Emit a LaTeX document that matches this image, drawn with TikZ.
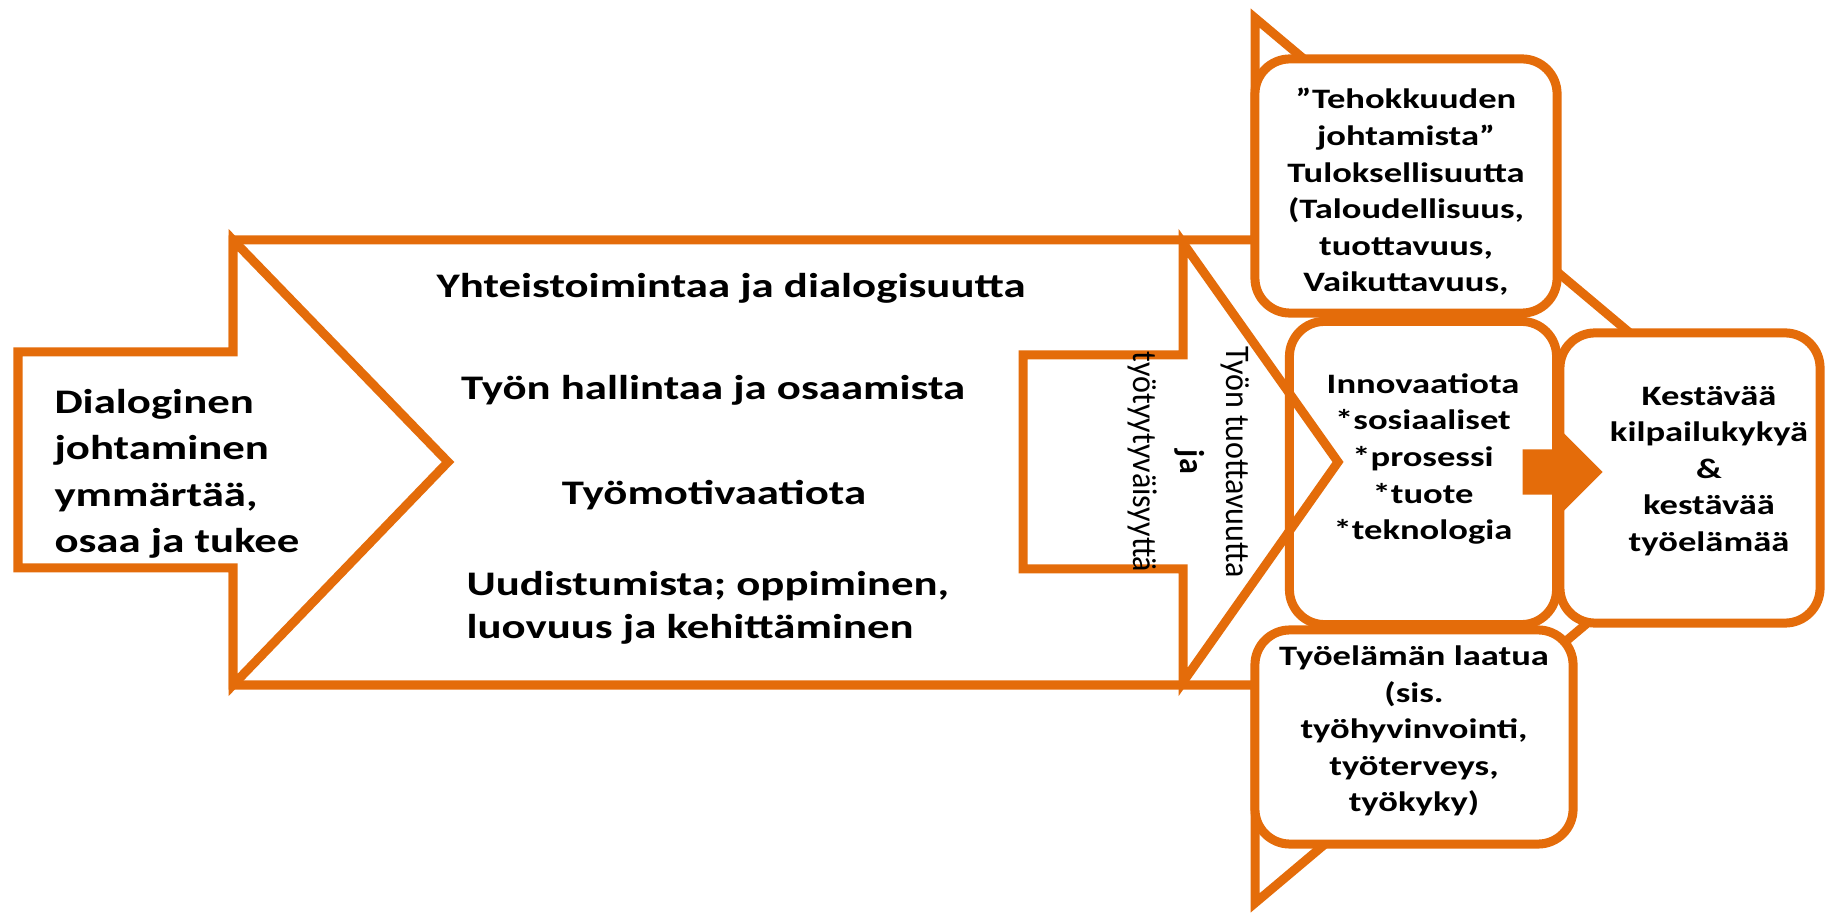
\documentclass[tikz,border=0pt]{standalone}
\usepackage{fontspec}
\setmainfont{Carlito}[FakeStretch=1.3]
\newfontfamily\rotfont{Carlito}[FakeStretch=0.93]
\usetikzlibrary{shapes.arrows}
\definecolor{accent}{HTML}{E46C0A}

\begin{document}
\begin{tikzpicture}[x=0.01cm, y=-0.01cm, line width=0.09cm,
    box/.style={draw=accent, fill=white, rectangle, rounded corners=0.35cm, inner sep=0pt},
    boxtext/.style={align=center, inner sep=0pt, font=\fontsize{8}{10.4}\selectfont\bfseries},
    label/.style={align=center, inner sep=0pt, font=\fontsize{9.8}{13.2}\selectfont\bfseries}]

    \useasboundingbox (0,0) rectangle (1827,916);

    % Big arrow in the back
    \draw[accent, fill=white] (233,240) -- (1255,240) -- (1255,18) -- (1781,460)
        -- (1255,903) -- (1255,685) -- (233,685) -- cycle;

    % Left arrow and middle arrow on top of it
    \draw[accent, fill=white] (18,352) -- (233,352) -- (233,240) -- (448,462)
        -- (233,685) -- (233,568) -- (18,568) -- cycle;
    \draw[accent, fill=white] (1023,355) -- (1183,355) -- (1183,243) -- (1338,462)
        -- (1183,682) -- (1183,569) -- (1023,569) -- cycle;

    % Texts in the first column (left)
    \node[label, align=left, anchor=west] (L1) at (50,474)
        {Dialoginen\\johtaminen\\ymmärtää,\\osaa ja tukee};

    % Texts in the big arrow
    \node[label] (M1) at (731,288) {Yhteistoimintaa ja dialogisuutta};
    \node[label] (M2) at (713,390) {Työn hallintaa ja osaamista};
    \node[label] (M3) at (714,495) {Työmotivaatiota};
    \node[label, align=left, anchor=west, font=\fontsize{9.8}{12.4}\selectfont\bfseries] (M4)
        at (462,608) {Uudistumista; oppiminen,\\luovuus ja kehittäminen};

    % Text in the middle arrow, turned
    \node[align=center, inner sep=0pt, rotate=-90, font=\rotfont\fontsize{9.8}{13.2}\selectfont]
        (R1) at (1189,462) {Työn tuottavuutta\\\textbf{ja}\\työtyytyväisyyttä};

    % Boxes on the right
    \node[box, minimum width=3.02cm, minimum height=2.54cm] (B1) at (1406,186) {};
    \node[box, fill=none, minimum width=2.67cm, minimum height=3.03cm] (B2) at (1423,473) {};
    \node[box, minimum width=3.18cm, minimum height=2.14cm] (B3) at (1414,737) {};
    \node[box, minimum width=2.60cm, minimum height=2.90cm] (C1) at (1690,478) {};

    % Texts in the boxes
    \node[boxtext, yshift=-0.06cm] (T1) at (B1)
        {”Tehokkuuden\\johtamista”\\Tuloksellisuutta\\(Taloudellisuus,\\tuottavuus,\\Vaikuttavuus,};
    \node[boxtext, yshift=0.14cm] (T2) at (B2)
        {Innovaatiota\\*sosiaaliset\\*prosessi\\*tuote\\*teknologia};
    \node[boxtext, yshift=0.06cm] (T3) at (B3)
        {Työelämän laatua\\(sis.\\työhyvinvointi,\\työterveys,\\työkyky)};
    \node[boxtext] (T4) at (1709,471)
        {Kestävää\\kilpailukykyä\\\&\\kestävää\\työelämää};

    % Filled arrow from B2 to C1
    \node[single arrow, fill=accent, draw=none, inner xsep=0pt, inner ysep=0.18cm,
        text height=0pt, text depth=0pt, minimum height=0.80cm,
        single arrow head extend=0.16cm, anchor=tail] (A1) at (1518,472) {};

\end{tikzpicture}
\end{document}
